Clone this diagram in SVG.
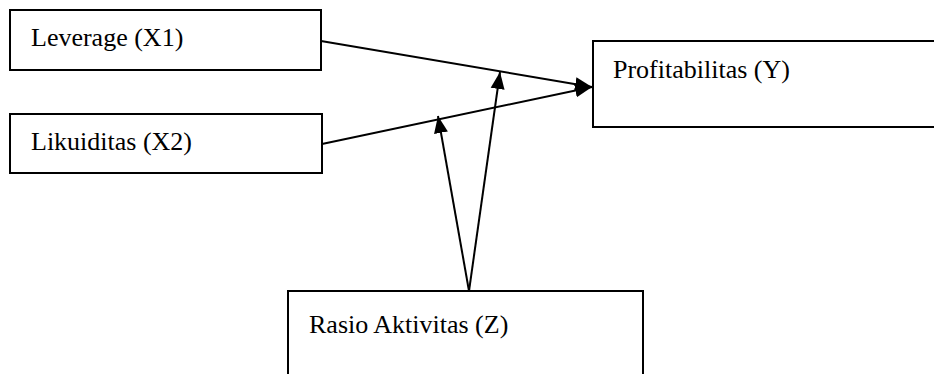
<svg xmlns="http://www.w3.org/2000/svg" width="934" height="374" viewBox="0 0 934 374">
<style>
.box{fill:#fff;stroke:#000;stroke-width:2}
.lbl{font-family:"Liberation Serif","Times New Roman",serif;font-size:26px;fill:#000}
.edge{stroke:#000;stroke-width:2;fill:none}
</style>
<defs>
<marker id="ah" markerUnits="userSpaceOnUse" markerWidth="18" markerHeight="16" viewBox="0 0 18 16" refX="17" refY="8" orient="auto">
<path d="M0,1 L17,8 L0,15 Z" fill="#000"/>
</marker>
</defs>
<rect width="934" height="374" fill="#fff"/>
<g id="connectors">
<line class="edge" x1="321" y1="41" x2="592" y2="87" marker-end="url(#ah)"/>
<line class="edge" x1="322" y1="144" x2="592" y2="87" marker-end="url(#ah)"/>
<line class="edge" x1="469" y1="291" x2="500" y2="72" marker-end="url(#ah)"/>
<line class="edge" x1="469" y1="291" x2="438" y2="116" marker-end="url(#ah)"/>
</g>
<g id="leverage">
<rect class="box" x="10" y="10" width="311" height="60"/>
<text class="lbl" x="31" y="46">Leverage (X1)</text>
</g>
<g id="likuiditas">
<rect class="box" x="10" y="114" width="312" height="59"/>
<text class="lbl" x="31" y="150">Likuiditas (X2)</text>
</g>
<g id="profitabilitas">
<rect class="box" x="593" y="41" width="360" height="86"/>
<text class="lbl" x="613" y="78">Profitabilitas (Y)</text>
</g>
<g id="rasio">
<rect class="box" x="288" y="291" width="355" height="100"/>
<text class="lbl" x="309" y="333">Rasio Aktivitas (Z)</text>
</g>
</svg>
